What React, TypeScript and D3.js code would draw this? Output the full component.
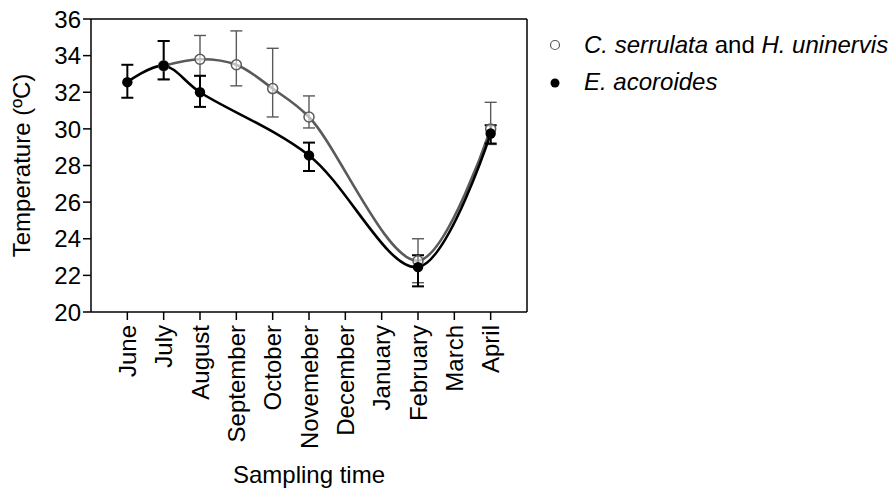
import React from 'react'
import * as d3 from 'd3'

// sampling months (tick labels, index = position on the x axis)
const months = ['June', 'July', 'August', 'September', 'October', 'Novemeber', 'December', 'January', 'February', 'March', 'April']

// C. serrulata and H. uninervis (open circles)
const chIdx = [1, 2, 3, 4, 5, 8, 10]
const chMean = [33.45, 33.8, 33.5, 32.2, 30.65, 22.8, 30.0]
const chLo = [32.7, 32.9, 32.35, 30.65, 30.05, 21.6, 29.15]
const chHi = [34.8, 35.1, 35.35, 34.4, 31.8, 24.0, 31.45]

// E. acoroides (filled circles)
const eaIdx = [0, 1, 2, 5, 8, 10]
const eaMean = [32.55, 33.45, 32.0, 28.55, 22.45, 29.75]
const eaLo = [31.7, 32.7, 31.2, 27.7, 21.4, 29.2]
const eaHi = [33.5, 34.8, 32.9, 29.25, 23.1, 30.2]

const yTicks = [20, 22, 24, 26, 28, 30, 32, 34, 36]

const W = 895
const H = 490
const FONT = '"Liberation Sans", Arial, Helvetica, sans-serif'
const GRAY = '#5a5a5a'
const FS = 24

type Pt = { x: number; v: number; lo: number; hi: number }

const toPts = (idx: number[], mean: number[], lo: number[], hi: number[]): Pt[] =>
  idx.map((x, i) => ({ x, v: mean[i], lo: lo[i], hi: hi[i] }))

export default function App() {
  const x = d3.scaleLinear().domain([-1, 11]).range([91, 527])
  const y = d3.scaleLinear().domain([20, 36]).range([312, 19])

  const line = d3.line<Pt>()
    .x(d => x(d.x))
    .y(d => y(d.v))
    .curve(d3.curveCatmullRom.alpha(0.5))

  const ch = toPts(chIdx, chMean, chLo, chHi)
  const ea = toPts(eaIdx, eaMean, eaLo, eaHi)

  const errBars = (pts: Pt[], color: string, sw: number) =>
    pts.map((d, i) => {
      const cx = x(d.x)
      return (
        <g key={i} stroke={color} strokeWidth={sw} fill="none">
          <line x1={cx} x2={cx} y1={y(d.lo)} y2={y(d.hi)} />
          <line x1={cx - 6} x2={cx + 6} y1={y(d.lo)} y2={y(d.lo)} />
          <line x1={cx - 6} x2={cx + 6} y1={y(d.hi)} y2={y(d.hi)} />
        </g>
      )
    })

  const [x0, x1] = x.range()
  const [yb, yt] = y.range()

  return (
    <svg width={W} height={H} style={{ position: 'absolute', left: 0, top: 0, background: '#fff' }}
      fontFamily={FONT}>
      {/* frame */}
      <line x1={x0} x2={x1} y1={yt} y2={yt} stroke="#000" strokeWidth={1.5} />
      <line x1={x1} x2={x1} y1={yt} y2={yb} stroke="#000" strokeWidth={1.5} />

      {/* y axis */}
      <line x1={x0} x2={x0} y1={yt} y2={yb} stroke="#000" strokeWidth={1.5} />
      {yTicks.map(t => (
        <g key={t}>
          <line x1={x0 - 8} x2={x0} y1={y(t)} y2={y(t)} stroke="#000" strokeWidth={1.5} />
          <text x={x0 - 10} y={y(t)} dy="0.36em" textAnchor="end" fontSize={FS}>{t}</text>
        </g>
      ))}
      <text transform={`translate(30,${(yt + yb) / 2}) rotate(-90)`} textAnchor="middle" fontSize={FS}>
        Temperature (ºC)
      </text>

      {/* x axis */}
      <line x1={x0} x2={x1} y1={yb} y2={yb} stroke="#000" strokeWidth={1.5} />
      {months.map((m, i) => (
        <g key={m}>
          <line x1={x(i)} x2={x(i)} y1={yb} y2={yb + 8} stroke="#000" strokeWidth={1.5} />
          <text transform={`translate(${x(i)},${yb + 13}) rotate(-90)`} dy="0.36em" textAnchor="end" fontSize={FS}>
            {m}
          </text>
        </g>
      ))}
      <text x={(x0 + x1) / 2} y={483} textAnchor="middle" fontSize={FS}>Sampling time</text>

      {/* C. serrulata and H. uninervis */}
      {errBars(ch, GRAY, 1.4)}
      <path d={line(ch) ?? ''} fill="none" stroke={GRAY} strokeWidth={2.6} />

      {/* E. acoroides */}
      {errBars(ea, '#000', 2)}
      <path d={line(ea) ?? ''} fill="none" stroke="#000" strokeWidth={2.6} />

      {ch.map((d, i) => (
        <circle key={'c' + i} cx={x(d.x)} cy={y(d.v)} r={5} fill="#fff" fillOpacity={0.6} stroke={GRAY} strokeWidth={1.5} />
      ))}
      {ea.map((d, i) => (
        <circle key={'e' + i} cx={x(d.x)} cy={y(d.v)} r={5.2} fill="#000" />
      ))}

      {/* legend */}
      <circle cx={555} cy={45} r={4.5} fill="#fff" stroke={GRAY} strokeWidth={1.2} />
      <text x={584} y={53} fontSize={FS}>
        <tspan fontStyle="italic">C. serrulata</tspan> and <tspan fontStyle="italic">H. uninervis</tspan>
      </text>
      <circle cx={555} cy={83} r={4.5} fill="#000" />
      <text x={584} y={90} fontSize={FS} fontStyle="italic">E. acoroides</text>
    </svg>
  )
}
